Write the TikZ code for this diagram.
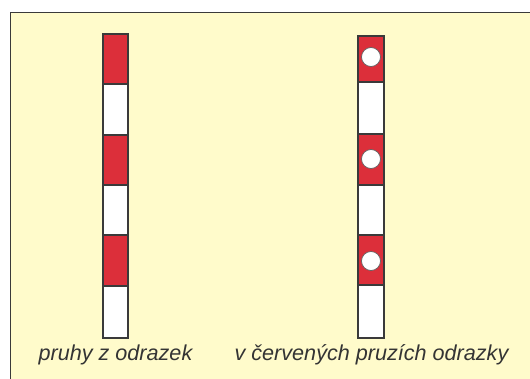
\documentclass[tikz,border=0pt]{standalone}
\usepackage{fontspec}
\setmainfont{Liberation Sans}
\definecolor{panel}{HTML}{FFFBCB}
\definecolor{stripe}{HTML}{DC2F3A}
\definecolor{edge}{HTML}{3A3A3A}
\begin{document}
\begin{tikzpicture}[x=1pt,y=-1pt,
  postline/.style={draw=edge,line width=1.3pt},
  redband/.style={fill=stripe,postline},
  whiteband/.style={fill=white,postline},
  reflector/.style={fill=white,draw=edge!80,line width=0.7pt},
  caption/.style={font=\fontsize{21.6}{24}\selectfont\itshape,text=edge!90!black,anchor=base,inner sep=0pt}]
  % page and panel frame
  \useasboundingbox (0,0) rectangle (530,378);
  \fill[white] (0,0) rectangle (530,378);
  \filldraw[fill=panel,draw=edge,line width=1.8pt] (10.5,12.5) rectangle (545,395);

  % left post: red and white stripes
  \foreach \ya/\yb/\st in {34/84/redband,84/135/whiteband,135/185/redband,185/235/whiteband,235/286/redband,286/338/whiteband}
    \path[\st] (103,\ya) rectangle (128,\yb);

  % right post: stripes with reflectors in the red bands
  \foreach \ya/\yb/\st in {36/82/redband,82/134/whiteband,134/185/redband,185/235/whiteband,235/285/redband,285/338/whiteband}
    \path[\st] (358,\ya) rectangle (384,\yb);
  \foreach \yc in {57,159,261}
    \path[reflector] (371,\yc) circle (9.5);

  % captions
  \node[caption] (capA) at (115.5,360) {pruhy z odrazek};
  \node[caption] (capB) at (371.5,360) {v červených pruzích odrazky};
\end{tikzpicture}
\end{document}
